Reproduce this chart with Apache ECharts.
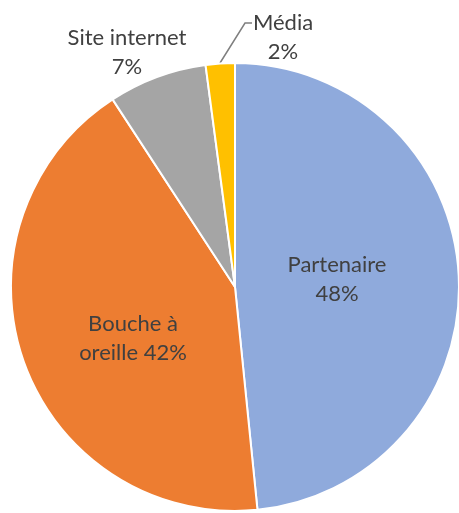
<!DOCTYPE html>
<html>
<head>
<meta charset="utf-8">
<script src="https://cdn.jsdelivr.net/npm/echarts@6/dist/echarts.min.js"></script>
<style>
  html, body { margin: 0; padding: 0; background: #fff; }
  #chart { width: 459px; height: 513px; }
</style>
</head>
<body>
<div id="chart"></div>
<script>
// données
const categories = ['Partenaire', 'Bouche à\noreille', 'Site internet', 'Média']
const values = [48.4, 42.4, 7.1, 2.1]
const colors = ['#8FAADC', '#ED7D31', '#A5A5A5', '#FFC000']
const insideLabel = [true, true, false, false]

// position des étiquettes (centre du bloc de texte)
const labelPos = [
  { x: 337, y: 279 },
  { x: 133, y: 338 },
  { x: 127, y: 52 },
  { x: 283, y: 37 }
]

const chart = echarts.init(document.getElementById('chart'))

const option = {
  animation: false,
  color: colors,
  series: [
    {
      type: 'pie',
      center: [235, 287],
      radius: 224,
      startAngle: 90,
      clockwise: true,
      data: categories.map((name, i) => ({
        name: name,
        value: values[i],
        label: { position: insideLabel[i] ? 'inside' : 'outside' },
        labelLine: { show: i === 3 }
      })),
      itemStyle: {
        borderColor: '#fff',
        borderWidth: 2
      },
      label: {
        show: true,
        color: '#404040',
        fontFamily: 'Lato',
        fontSize: 22,
        lineHeight: 29,
        align: 'center',
        overflow: 'none',
        formatter: function (p) {
          // "Bouche à oreille 42%" : pourcentage sur la même ligne
          const pct = Math.round(p.percent) + '%'
          return p.dataIndex === 1 ? p.name + ' ' + pct : p.name + '\n' + pct
        }
      },
      labelLine: {
        lineStyle: { color: '#7f7f7f', width: 1.5 }
      },
      labelLayout: function (params) {
        const pos = labelPos[params.dataIndex]
        const res = {
          x: pos.x,
          y: pos.y,
          align: 'center',
          verticalAlign: 'middle'
        }
        if (params.dataIndex === 3) {
          res.labelLinePoints = [[220, 63], [245, 23], [252, 23]]
        }
        return res
      },
      emphasis: { disabled: true }
    }
  ]
}

chart.setOption(option)
</script>
</body>
</html>
